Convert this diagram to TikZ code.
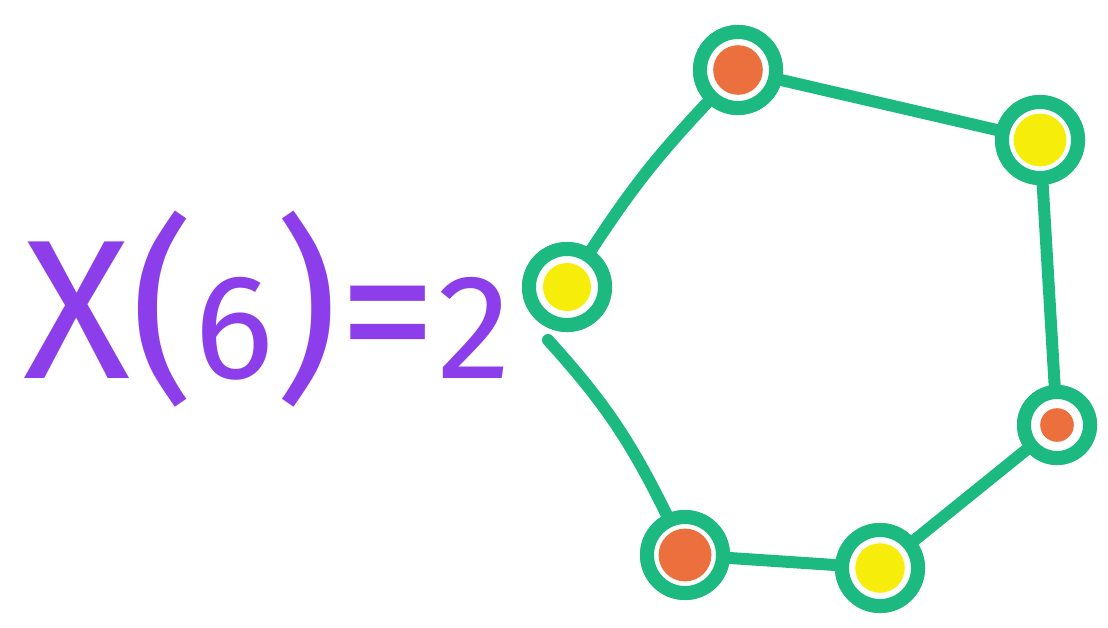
\documentclass[tikz,border=0pt]{standalone}
\usepackage{fontspec}
\newfontfamily\handfont{Fira Sans}
\usetikzlibrary{positioning}
\definecolor{cring}{RGB}{28,186,128}
\definecolor{corange}{RGB}{236,112,62}
\definecolor{cyellow}{RGB}{246,238,10}
\definecolor{cpurple}{RGB}{140,62,234}
\newcommand{\smalldigit}[1]{{\fontsize{106}{106}\selectfont #1}}

\begin{document}
\begin{tikzpicture}[x=0.025cm, y=-0.025cm,
    vertex/.style 2 args={circle, draw=cring, line width=0.35cm, fill=white,
      minimum size=1.9cm, inner sep=0pt,
      path picture={\fill[#1] (path picture bounding box.center) circle (#2);}},
    edge/.style={draw=cring, line width=0.3cm, line cap=round},
    formula/.style={text=cpurple, font=\handfont\fontsize{141}{141}\selectfont,
      inner sep=0pt}]

  \useasboundingbox (0,0) rectangle (1108,627);

  % --- formula ---
  \node[formula, anchor=base west] (chi) at (23,378)
       {X(\smalldigit{6})=\smalldigit{2}};

  % --- vertices of the cycle ---
  \node[vertex={corange}{0.62cm}] (top) at (738,70) {};
  \node[vertex={cyellow}{0.66cm}] (topright) at (1040,140) {};
  \node[vertex={corange}{0.42cm}, minimum size=1.65cm] (right) at (1057,425) {};
  \node[vertex={cyellow}{0.62cm}] (botright) at (880,568) {};
  \node[vertex={corange}{0.66cm}] (botleft) at (685,555) {};
  \node[vertex={cyellow}{0.6cm}] (left) at (567,287) {};
  \coordinate (gap) at (548,340);

  % --- edges of the cycle ---
  \draw[edge] (top) -- (topright);
  \draw[edge] (topright) -- (right);
  \draw[edge] (right) -- (botright);
  \draw[edge] (botright) -- (botleft);
  \draw[edge] (botleft) to[bend right=8] (gap);
  \draw[edge] (left) to[bend left=5] (top);

  % redraw the vertices over the edge ends
  \node[vertex={corange}{0.62cm}] at (top) {};
  \node[vertex={cyellow}{0.66cm}] at (topright) {};
  \node[vertex={corange}{0.42cm}, minimum size=1.65cm] at (right) {};
  \node[vertex={cyellow}{0.62cm}] at (botright) {};
  \node[vertex={corange}{0.66cm}] at (botleft) {};
  \node[vertex={cyellow}{0.6cm}] at (left) {};
\end{tikzpicture}
\end{document}
